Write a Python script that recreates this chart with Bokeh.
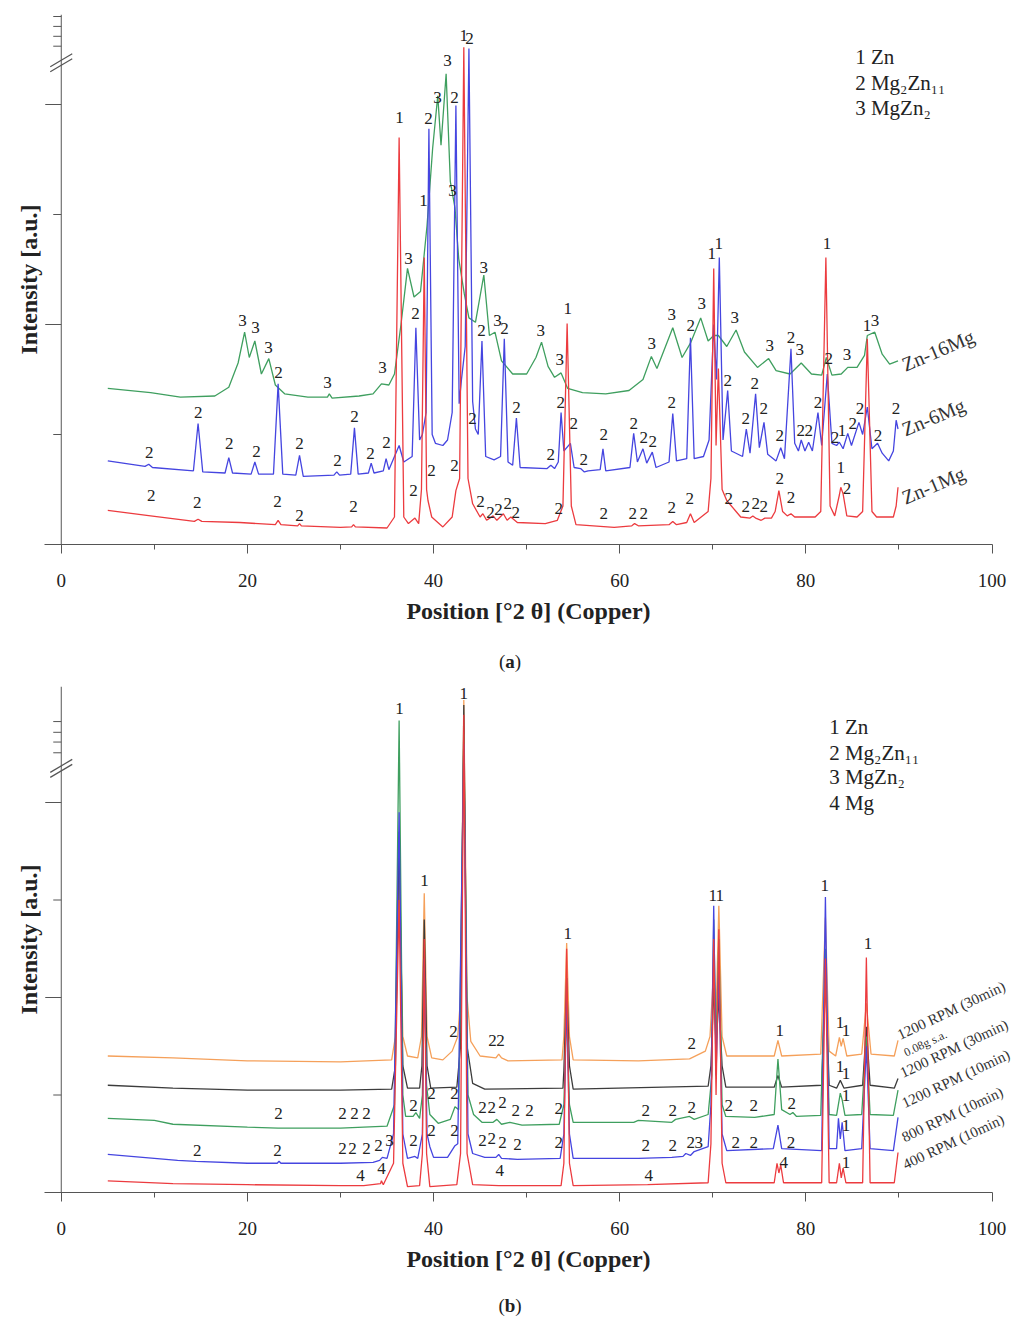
from bokeh.plotting import figure
from bokeh.models import FixedTicker, Label, Arrow, ColumnDataSource, Div
from bokeh.layouts import column
from bokeh.embed import file_html
from bokeh.resources import INLINE
from bokeh.core.properties import value

FONT = "Liberation Serif"

# ---------------- Panel (a) data ----------------
a_red_x = [5.0, 9.6, 14.3, 14.7, 15.1, 19.2, 23.0, 23.3, 23.6, 25.4, 25.6, 25.8, 30.0, 31.2, 31.4, 31.6, 35.0, 35.8, 36.3, 36.8, 37.3, 38.0, 38.4, 38.7, 39.0, 39.25, 39.4, 39.8, 41.0, 42.0, 42.4, 42.8, 43.25, 43.7, 44.2, 45.0, 45.3, 45.7, 46.4, 46.8, 47.5, 47.9, 48.3, 49.0, 52.0, 53.3, 53.9, 54.35, 54.8, 55.3, 59.4, 61.3, 61.6, 62.0, 65.3, 65.7, 66.1, 67.2, 67.6, 68.0, 69.5, 69.8, 70.1, 70.35, 70.6, 71.0, 71.5, 72.5, 73.0, 74.0, 74.3, 74.6, 75.2, 75.6, 76.3, 76.7, 77.1, 77.5, 78.0, 78.4, 78.8, 81.0, 81.6, 82.15, 82.6, 83.1, 83.6, 83.75, 84.0, 84.4, 85.5, 86.1, 86.6, 87.1, 87.6, 89.4, 89.7, 89.9]
a_red_y = [0.31, 0.26, 0.21, 0.23, 0.21, 0.20, 0.18, 0.22, 0.18, 0.17, 0.19, 0.17, 0.155, 0.16, 0.18, 0.16, 0.15, 0.25, 3.70, 0.25, 0.19, 0.24, 0.19, 0.50, 2.61, 0.50, 0.40, 0.25, 0.16, 0.25, 0.49, 0.60, 4.52, 0.60, 0.37, 0.25, 0.28, 0.22, 0.26, 0.22, 0.28, 0.22, 0.25, 0.20, 0.19, 0.22, 0.35, 2.01, 0.35, 0.18, 0.155, 0.17, 0.19, 0.17, 0.18, 0.21, 0.18, 0.20, 0.28, 0.20, 0.30, 0.60, 2.51, 0.90, 1.60, 0.50, 0.40, 0.30, 0.25, 0.24, 0.26, 0.24, 0.22, 0.24, 0.24, 0.30, 0.49, 0.30, 0.26, 0.28, 0.25, 0.25, 0.30, 2.61, 0.35, 0.26, 0.45, 0.52, 0.46, 0.26, 0.25, 0.30, 1.87, 0.30, 0.25, 0.25, 0.35, 0.52]

a_blue_x = [5.0, 9.0, 9.4, 9.8, 14.2, 14.7, 15.2, 17.6, 18.0, 18.4, 20.4, 20.8, 21.2, 22.8, 23.3, 23.8, 25.2, 25.6, 26.0, 29.3, 29.6, 29.9, 31.1, 31.5, 31.9, 33.0, 33.3, 33.6, 34.6, 34.9, 35.2, 35.8, 36.3, 36.8, 37.7, 38.1, 38.5, 38.8, 39.2, 39.5, 39.85, 40.2, 41.0, 41.5, 42.0, 42.4, 42.75, 43.0, 43.4, 43.8, 44.2, 44.5, 44.8, 45.2, 45.6, 46.5, 47.2, 47.6, 48.0, 48.5, 48.9, 49.3, 52.2, 52.6, 53.0, 53.4, 53.7, 54.0, 54.7, 55.1, 55.8, 56.2, 56.6, 57.9, 58.2, 58.5, 61.1, 61.5, 61.9, 62.5, 62.9, 63.5, 63.9, 65.3, 65.7, 66.1, 67.2, 67.6, 68.0, 69.0, 69.6, 70.1, 70.4, 70.7, 71.1, 71.6, 72.0, 73.2, 73.6, 74.0, 74.6, 75.0, 75.5, 75.9, 76.8, 77.3, 77.7, 78.4, 78.8, 79.2, 79.5, 79.9, 80.3, 80.7, 81.3, 81.7, 82.3, 82.8, 83.3, 83.6, 84.0, 84.5, 84.9, 85.7, 86.1, 86.6, 87.1, 87.7, 88.2, 88.9, 89.4, 89.7, 89.9]
a_blue_y = [0.76, 0.71, 0.73, 0.70, 0.67, 1.10, 0.66, 0.65, 0.79, 0.65, 0.64, 0.75, 0.64, 0.64, 1.46, 0.64, 0.63, 0.81, 0.62, 0.63, 0.66, 0.63, 0.64, 1.06, 0.64, 0.65, 0.74, 0.65, 0.67, 0.78, 0.68, 0.80, 0.90, 0.75, 0.80, 1.97, 0.95, 1.00, 1.20, 3.78, 1.00, 0.92, 0.90, 0.95, 1.20, 3.99, 1.28, 1.50, 1.80, 4.51, 1.30, 1.05, 1.00, 1.85, 0.80, 0.77, 0.80, 1.87, 0.75, 0.72, 1.15, 0.70, 0.69, 0.72, 0.69, 0.75, 1.20, 0.85, 0.92, 0.70, 0.69, 0.66, 0.67, 0.68, 0.87, 0.67, 0.70, 1.01, 0.75, 0.87, 0.74, 0.84, 0.70, 0.75, 1.19, 0.76, 0.78, 1.88, 0.78, 0.80, 0.95, 2.00, 1.50, 2.61, 0.95, 1.40, 0.85, 0.80, 1.05, 0.83, 1.37, 0.88, 1.11, 0.82, 0.76, 0.88, 0.78, 1.78, 0.92, 0.85, 0.95, 0.85, 0.93, 0.85, 1.20, 0.90, 1.55, 0.92, 0.90, 0.93, 0.87, 1.01, 0.90, 1.11, 1.00, 1.25, 0.87, 0.92, 0.83, 0.76, 0.85, 1.13, 1.05]

a_green_x = [5.0, 9.6, 12.8, 16.5, 18.0, 19.0, 19.7, 20.2, 20.8, 21.5, 22.3, 23.0, 24.0, 26.5, 28.6, 28.8, 29.1, 32.0, 33.5, 34.4, 35.2, 35.8, 36.5, 37.2, 37.9, 38.6, 39.3, 39.9, 40.45, 40.8, 41.35, 41.8, 42.3, 42.7, 43.3, 43.8, 44.5, 45.4, 46.0, 46.6, 47.3, 48.5, 50.0, 51.0, 51.6, 52.3, 53.0, 53.7, 54.4, 56.0, 58.5, 61.0, 62.5, 63.4, 64.0, 65.7, 66.7, 67.6, 68.7, 69.5, 70.1, 70.6, 71.5, 72.5, 73.4, 74.8, 76.0, 76.8, 78.3, 79.5, 80.6, 81.7, 82.2, 82.8, 83.8, 84.5, 85.5, 86.3, 86.6, 87.4, 88.2, 89.0, 89.9]
a_green_y = [1.42, 1.38, 1.34, 1.35, 1.43, 1.65, 1.93, 1.70, 1.85, 1.55, 1.69, 1.45, 1.37, 1.34, 1.34, 1.37, 1.33, 1.35, 1.37, 1.46, 1.45, 1.55, 2.00, 2.51, 2.25, 2.30, 2.90, 3.60, 4.08, 3.63, 4.28, 3.30, 3.06, 2.60, 2.28, 2.06, 2.02, 2.45, 1.90, 1.93, 1.67, 1.55, 1.55, 1.70, 1.84, 1.62, 1.52, 1.56, 1.42, 1.38, 1.37, 1.40, 1.50, 1.71, 1.60, 1.97, 1.70, 1.83, 2.06, 1.85, 1.90, 1.90, 1.80, 1.95, 1.75, 1.61, 1.69, 1.58, 1.55, 1.65, 1.55, 1.54, 1.70, 1.54, 1.55, 1.61, 1.61, 1.72, 1.90, 1.93, 1.73, 1.64, 1.67]

a_lab_text = (["1", "1", "1", "2", "1", "1", "1", "1", "1", "1", "3"]
              + ["3"] * 20 + ["2"] * 38 + ["1"] + ["2"] * 4 + ["2"] * 26)
a_lab_x = ([36.34, 38.92, 43.23, 43.87, 54.41, 69.89, 70.65, 82.26, 83.76, 86.56, 87.42]
           + [19.46, 20.86, 22.26, 28.60, 34.52, 37.31, 40.43, 41.51, 42.04, 45.38, 46.88, 51.51, 53.55, 63.44, 65.59, 68.82, 72.37, 76.13, 79.35, 84.41]
           + [9.46, 14.73, 18.06, 20.97, 23.33, 25.59, 29.68, 31.51, 33.23, 34.95, 38.06, 39.46, 42.26, 44.19, 45.16, 47.63, 48.92, 52.58, 53.66, 55.05, 56.13, 58.28, 61.51, 62.58, 63.55, 65.59, 67.63, 71.61, 73.55, 74.52, 75.48, 77.20, 78.39, 79.46, 80.32, 81.29, 82.47, 83.12]
           + [83.87]
           + [85.05, 85.81, 87.74, 89.68]
           + [9.68, 14.62, 23.23, 25.59, 31.40, 37.85, 39.78, 42.26, 45.05, 46.13, 46.99, 47.96, 48.82, 53.44, 58.28, 61.40, 62.58, 65.59, 67.53, 71.72, 73.55, 74.62, 75.48, 77.20, 78.39, 84.41])
a_lab_y = ([3.88, 3.13, 4.63, 4.60, 2.15, 2.65, 2.74, 2.74, 0.70, 1.99, 2.04]
           + [2.04, 1.97, 1.79, 1.47, 1.61, 2.60, 4.06, 4.40, 3.22, 2.52, 2.04, 1.95, 1.68, 1.83, 2.09, 2.19, 2.06, 1.81, 1.77, 1.73]
           + [0.84, 1.20, 0.92, 0.85, 1.56, 0.92, 0.76, 1.16, 0.83, 0.93, 2.10, 3.87, 4.06, 1.15, 1.95, 1.96, 1.25, 0.82, 1.29, 1.10, 0.77, 1.00, 1.10, 0.97, 0.94, 1.29, 1.99, 1.49, 1.15, 1.46, 1.24, 0.99, 1.88, 1.04, 1.04, 1.29, 1.69, 0.97]
           + [1.04]
           + [1.10, 1.24, 0.99, 1.24]
           + [0.45, 0.38, 0.39, 0.26, 0.35, 0.49, 0.67, 0.72, 0.39, 0.29, 0.32, 0.37, 0.29, 0.33, 0.28, 0.28, 0.28, 0.34, 0.42, 0.42, 0.35, 0.37, 0.35, 0.60, 0.43, 0.51])

a_legend = ["1 Zn", "2 Mg\u2082Zn\u2081\u2081", "3 MgZn\u2082"]
a_legend_y = [4.43, 4.20, 3.97]
a_names = ["Zn-16Mg", "Zn-6Mg", "Zn-1Mg"]
a_names_y = [1.63, 1.04, 0.42]

# ---------------- Panel (b) data ----------------
b_orange_x = [5.0, 12.0, 20.0, 30.0, 35.5, 35.9, 36.3, 36.7, 37.2, 38.3, 38.7, 39.0, 39.3, 39.8, 41.0, 42.0, 42.6, 42.9, 43.25, 43.6, 44.0, 45.0, 46.7, 47.0, 47.3, 48.0, 53.8, 54.0, 54.3, 54.6, 55.0, 62.0, 67.5, 69.2, 69.7, 70.1, 70.35, 70.65, 71.0, 71.5, 76.6, 77.0, 77.4, 81.6, 82.1, 82.5, 83.2, 83.6, 83.8, 84.0, 84.4, 86.0, 86.5, 87.0, 89.5, 89.9]
b_orange_y = [1.40, 1.38, 1.35, 1.34, 1.36, 1.60, 3.30, 1.60, 1.40, 1.38, 1.60, 3.07, 1.60, 1.38, 1.36, 1.45, 1.60, 2.00, 5.05, 2.00, 1.55, 1.40, 1.38, 1.42, 1.38, 1.35, 1.36, 1.60, 2.56, 1.60, 1.36, 1.35, 1.37, 1.45, 1.60, 2.30, 1.80, 2.94, 1.60, 1.40, 1.40, 1.56, 1.40, 1.42, 2.82, 1.45, 1.40, 1.59, 1.50, 1.58, 1.40, 1.42, 1.94, 1.42, 1.40, 1.56]

b_black_x = [5.0, 12.0, 20.0, 30.0, 35.5, 35.9, 36.3, 36.7, 37.2, 38.5, 38.75, 39.0, 39.3, 39.7, 42.5, 42.9, 43.25, 43.6, 44.2, 45.5, 53.9, 54.0, 54.3, 54.6, 55.0, 69.5, 69.8, 70.1, 70.35, 70.65, 71.0, 71.4, 76.6, 77.0, 77.4, 81.7, 82.1, 82.5, 83.3, 83.7, 84.1, 86.1, 86.5, 86.9, 89.5, 89.9]
b_black_y = [1.10, 1.07, 1.05, 1.05, 1.06, 1.30, 3.70, 1.30, 1.07, 1.07, 1.30, 2.80, 1.30, 1.07, 1.08, 1.50, 5.00, 1.50, 1.12, 1.06, 1.07, 1.25, 2.20, 1.30, 1.06, 1.09, 1.30, 2.10, 1.50, 2.00, 1.30, 1.08, 1.08, 1.20, 1.08, 1.10, 2.20, 1.10, 1.07, 1.15, 1.07, 1.10, 1.70, 1.10, 1.07, 1.17]

b_green_x = [5.0, 10.0, 12.0, 20.0, 23.3, 30.0, 35.0, 35.8, 36.3, 36.7, 37.0, 37.8, 38.1, 38.5, 38.8, 39.0, 39.25, 39.6, 40.5, 41.8, 42.3, 42.7, 43.25, 43.7, 44.3, 45.2, 46.4, 46.8, 47.3, 48.2, 49.5, 53.5, 54.0, 54.3, 54.6, 55.0, 61.5, 62.0, 65.6, 66.0, 67.5, 68.0, 69.5, 69.9, 70.1, 70.35, 70.65, 71.0, 71.4, 74.5, 76.6, 77.0, 77.4, 78.3, 78.6, 79.0, 81.6, 82.1, 82.5, 83.3, 83.7, 83.9, 84.2, 86.0, 86.5, 86.9, 89.4, 89.9]
b_green_y = [0.76, 0.74, 0.70, 0.67, 0.66, 0.66, 0.68, 0.90, 4.84, 1.00, 0.78, 0.78, 0.82, 0.76, 1.00, 2.30, 1.10, 0.80, 0.71, 0.75, 0.88, 0.85, 4.70, 1.00, 0.80, 0.72, 0.72, 0.75, 0.70, 0.72, 0.69, 0.70, 0.90, 1.90, 0.90, 0.72, 0.72, 0.74, 0.72, 0.75, 0.78, 0.75, 0.80, 1.20, 2.80, 1.50, 2.60, 0.90, 0.78, 0.77, 0.80, 1.37, 0.85, 0.80, 0.82, 0.78, 0.79, 2.50, 0.80, 0.79, 1.02, 0.95, 0.79, 0.80, 1.60, 0.80, 0.79, 1.05]

b_blue_x = [5.0, 10.0, 12.5, 14.5, 20.0, 23.2, 23.4, 23.6, 30.0, 33.5, 34.2, 34.5, 35.0, 35.7, 36.3, 36.7, 37.2, 38.0, 38.3, 38.8, 39.0, 39.3, 39.6, 40.0, 41.5, 42.3, 42.6, 43.25, 43.7, 44.2, 45.5, 46.7, 47.0, 47.3, 49.0, 53.6, 54.0, 54.3, 54.6, 55.0, 62.0, 65.6, 66.8, 67.1, 67.6, 68.0, 69.5, 69.8, 70.1, 70.35, 70.65, 71.0, 71.5, 76.5, 77.0, 77.4, 81.7, 82.1, 82.5, 83.3, 83.5, 83.7, 83.9, 84.2, 86.0, 86.5, 86.9, 89.4, 89.9]
b_blue_y = [0.39, 0.35, 0.33, 0.32, 0.30, 0.30, 0.32, 0.30, 0.30, 0.31, 0.33, 0.36, 0.35, 0.60, 3.90, 0.60, 0.35, 0.37, 0.35, 0.60, 2.40, 0.60, 0.47, 0.36, 0.36, 0.48, 0.50, 4.60, 0.60, 0.40, 0.36, 0.36, 0.39, 0.35, 0.34, 0.35, 0.60, 2.00, 0.60, 0.35, 0.35, 0.36, 0.37, 0.40, 0.38, 0.42, 0.47, 0.90, 2.94, 1.20, 2.30, 0.60, 0.43, 0.45, 0.69, 0.45, 0.43, 3.03, 0.45, 0.45, 0.76, 0.55, 0.72, 0.43, 0.45, 1.50, 0.45, 0.43, 0.77]

b_red_x = [5.0, 12.0, 20.0, 30.0, 32.5, 34.3, 34.4, 34.6, 35.7, 36.3, 36.7, 37.2, 38.5, 38.8, 39.0, 39.25, 39.6, 42.5, 42.9, 43.25, 43.6, 44.2, 47.0, 53.7, 54.0, 54.3, 54.6, 55.0, 63.0, 69.5, 69.8, 70.1, 70.35, 70.65, 71.0, 71.4, 76.6, 76.9, 77.1, 77.3, 77.6, 81.7, 82.1, 82.5, 83.3, 83.6, 83.8, 84.0, 84.3, 86.1, 86.5, 86.9, 89.5, 89.9]
b_red_y = [0.12, 0.09, 0.08, 0.07, 0.07, 0.09, 0.12, 0.08, 0.30, 3.00, 0.30, 0.06, 0.07, 0.40, 2.60, 0.40, 0.06, 0.08, 0.40, 4.90, 0.40, 0.08, 0.07, 0.07, 0.30, 2.50, 0.30, 0.07, 0.08, 0.10, 0.50, 2.60, 1.00, 2.70, 0.30, 0.10, 0.10, 0.30, 0.20, 0.28, 0.10, 0.10, 2.40, 0.10, 0.10, 0.30, 0.15, 0.25, 0.10, 0.10, 2.41, 0.10, 0.10, 0.41]

b_lab_text = (["1"] * 16 + ["4"] * 5 + ["2"] * 4 + ["2"] * 19
              + ["2", "2", "2", "2", "2", "2", "3", "2", "2", "2", "2", "2", "2", "2", "2", "2", "2", "2", "3", "2", "2", "2"])
b_lab_x = ([36.34, 39.03, 43.23, 54.41, 70.00, 70.75, 82.04, 86.67, 77.20, 83.66, 84.30, 83.66, 84.30, 84.30, 84.30, 84.30]
           + [32.15, 34.41, 47.10, 63.12, 77.63]
           + [42.15, 46.34, 47.20, 67.74]
           + [23.33, 30.22, 31.51, 32.80, 37.85, 39.78, 42.26, 45.27, 46.24, 47.42, 48.82, 50.32, 53.44, 62.80, 65.70, 67.74, 71.72, 74.41, 78.49]
           + [14.62, 23.23, 30.22, 31.29, 32.80, 34.09, 35.27, 37.85, 39.78, 42.26, 45.27, 46.24, 47.42, 49.03, 53.44, 62.80, 65.70, 67.63, 68.49, 72.47, 74.41, 78.39])
b_lab_y = ([4.96, 3.20, 5.12, 2.66, 3.05, 3.05, 3.15, 2.55, 1.66, 1.74, 1.66, 1.29, 1.22, 0.99, 0.69, 0.31]
           + [0.17, 0.25, 0.23, 0.17, 0.31]
           + [1.65, 1.56, 1.56, 1.53]
           + [0.81, 0.81, 0.81, 0.81, 0.89, 1.02, 1.02, 0.87, 0.87, 0.92, 0.84, 0.84, 0.86, 0.84, 0.84, 0.87, 0.89, 0.89, 0.91]
           + [0.43, 0.43, 0.45, 0.45, 0.45, 0.48, 0.53, 0.53, 0.64, 0.64, 0.53, 0.55, 0.51, 0.49, 0.51, 0.48, 0.48, 0.51, 0.51, 0.51, 0.51, 0.51])

b_legend = ["1 Zn", "2 Mg\u2082Zn\u2081\u2081", "3 MgZn\u2082", "4 Mg"]
b_legend_y = [4.77, 4.51, 4.26, 4.00]
b_names = ["1200 RPM (30min)", "0.08g s.a.", "1200 RPM (30min)", "1200 RPM (10min)", "800 RPM (10min)", "400 RPM (10min)"]
b_names_x = [89.9, 90.6, 90.2, 90.4, 90.4, 90.5]
b_names_y = [1.61, 1.43, 1.22, 0.91, 0.56, 0.28]
b_names_size = ["15px", "12px", "15px", "15px", "15px", "15px"]

x_ticks = [0, 20, 40, 60, 80, 100]
x_minor = [10, 30, 50, 70, 90]
y_major = [2, 4]
y_minor = [1, 3]

RED, BLUE, GREEN, ORANGE, BLACK = "#ec3b3f", "#4545e0", "#3f9f5f", "#f5a05a", "#3c3c3c"
AXC = "#555555"
X0, X1 = -1.8, 102.2          # frame spans a bit beyond the axis on both sides
PX = 968 / (X1 - X0)          # screen pixels per degree


def make_fig(height, top, bottom, y_end, minor_top, brk, unit_px):
    p = figure(width=1020, height=height, x_range=(X0, X1), y_range=(0, y_end),
               output_backend="svg", toolbar_location=None,
               min_border_left=44, min_border_right=8,
               min_border_top=top, min_border_bottom=bottom)
    p.outline_line_color = None
    p.xgrid.visible = False
    p.ygrid.visible = False
    p.background_fill_color = "white"
    p.border_fill_color = "white"
    xa = p.xaxis[0]
    xa.bounds = (X0, 100)
    xa.ticker = FixedTicker(ticks=x_ticks, minor_ticks=x_minor)
    xa.axis_line_color = AXC
    xa.major_tick_line_color = AXC
    xa.minor_tick_line_color = AXC
    xa.major_tick_out = 9
    xa.major_tick_in = 0
    xa.minor_tick_out = 5
    xa.minor_tick_in = 0
    xa.major_label_standoff = 20
    xa.major_label_text_font = FONT
    xa.major_label_text_font_size = "19px"
    xa.major_label_text_color = "#222222"
    xa.axis_label = "Position [\u00b02 \u03b8] (Copper)"
    xa.axis_label_text_font = FONT
    xa.axis_label_text_font_style = "bold"
    xa.axis_label_text_font_size = "24px"
    xa.axis_label_text_color = "#222222"
    xa.axis_label_standoff = 8
    ya = p.yaxis[0]
    ya.ticker = FixedTicker(ticks=[])
    ya.axis_line_color = None
    ya.major_tick_line_color = None
    ya.minor_tick_line_color = None
    ya.major_label_standoff = 0
    ya.axis_label = "Intensity [a.u.]"
    ya.axis_label_text_font = FONT
    ya.axis_label_text_font_style = "bold"
    ya.axis_label_text_font_size = "24px"
    ya.axis_label_text_color = "#222222"
    ya.axis_label_standoff = 3
    # vertical axis drawn at 2theta = 0 with its tick marks
    p.segment(x0=[0], y0=[0], x1=[0], y1=[y_end], line_color=AXC, line_width=1)
    p.segment(x0=[-16 / PX] * len(y_major), y0=y_major, x1=[0] * len(y_major), y1=y_major,
              line_color=AXC, line_width=1)
    mins = y_minor + minor_top
    p.segment(x0=[-8 / PX] * len(mins), y0=mins, x1=[0] * len(mins), y1=mins,
              line_color=AXC, line_width=1)
    # axis break marks
    dy = 6.5 / unit_px
    for off in (-2.5 / unit_px, 2.5 / unit_px):
        p.add_layout(Arrow(end=None, x_start=-11 / PX, y_start=brk + off - dy,
                           x_end=11 / PX, y_end=brk + off + dy,
                           line_color=AXC, line_width=1.2))
    return p


def add_labels(p, tx, xx, yy, size):
    src = ColumnDataSource(dict(t=tx, x=xx, y=yy))
    p.text(x="x", y="y", text="t", source=src, text_font=value(FONT),
           text_font_size=size, text_align="center", text_baseline="middle",
           text_color="#222222")


# ---------------- Figure (a) ----------------
pa = make_fig(640, 14, 96, 530 / 110, [4.53, 4.62, 4.71, 4.80], 4.38, 110)
pa.line(a_green_x, a_green_y, line_color=GREEN, line_width=1.3)
pa.line(a_blue_x, a_blue_y, line_color=BLUE, line_width=1.3)
pa.line(a_red_x, a_red_y, line_color=RED, line_width=1.3)
add_labels(pa, a_lab_text, a_lab_x, a_lab_y, "17px")
pa.text(x=[85.3] * 3, y=a_legend_y, text=a_legend, text_font=value(FONT),
        text_font_size="21px", text_align="left", text_baseline="middle", text_color="#222222")
for nm, ny in zip(a_names, a_names_y):
    pa.add_layout(Label(x=90.4, y=ny, text=nm, angle=0.40, text_font=FONT,
                        text_font_size="20px", text_align="left", text_baseline="alphabetic",
                        text_color="#333333"))

# ---------------- Figure (b) ----------------
pb = make_fig(610, 6, 98, 506 / 97.5, [4.51, 4.62, 4.72, 4.83], 4.35, 97.5)
pb.line(b_orange_x, b_orange_y, line_color=ORANGE, line_width=1.3)
pb.line(b_black_x, b_black_y, line_color=BLACK, line_width=1.3)
pb.line(b_green_x, b_green_y, line_color=GREEN, line_width=1.3)
pb.line(b_blue_x, b_blue_y, line_color=BLUE, line_width=1.3)
pb.line(b_red_x, b_red_y, line_color=RED, line_width=1.3)
add_labels(pb, b_lab_text, b_lab_x, b_lab_y, "17px")
pb.text(x=[82.5] * 4, y=b_legend_y, text=b_legend, text_font=value(FONT),
        text_font_size="21px", text_align="left", text_baseline="middle", text_color="#222222")
for nm, nx, ny, ns in zip(b_names, b_names_x, b_names_y, b_names_size):
    pb.add_layout(Label(x=nx, y=ny, text=nm, angle=0.44, text_font=FONT,
                        text_font_size=ns, text_align="left", text_baseline="alphabetic",
                        text_color="#333333"))

div_style = {"text-align": "center", "font-family": FONT, "font-size": "19px",
             "color": "#222222", "width": "1020px"}
da = Div(text="(<b>a</b>)", width=1020, height=40, margin=(0, 0, 0, 0),
         styles=dict(div_style, **{"line-height": "44px"}))
db = Div(text="(<b>b</b>)", width=1020, height=29, margin=(0, 0, 0, 0),
         styles=dict(div_style, **{"line-height": "32px"}))

layout = column(pa, da, pb, db, spacing=0)
open("out.html", "w").write(file_html(layout, INLINE))
